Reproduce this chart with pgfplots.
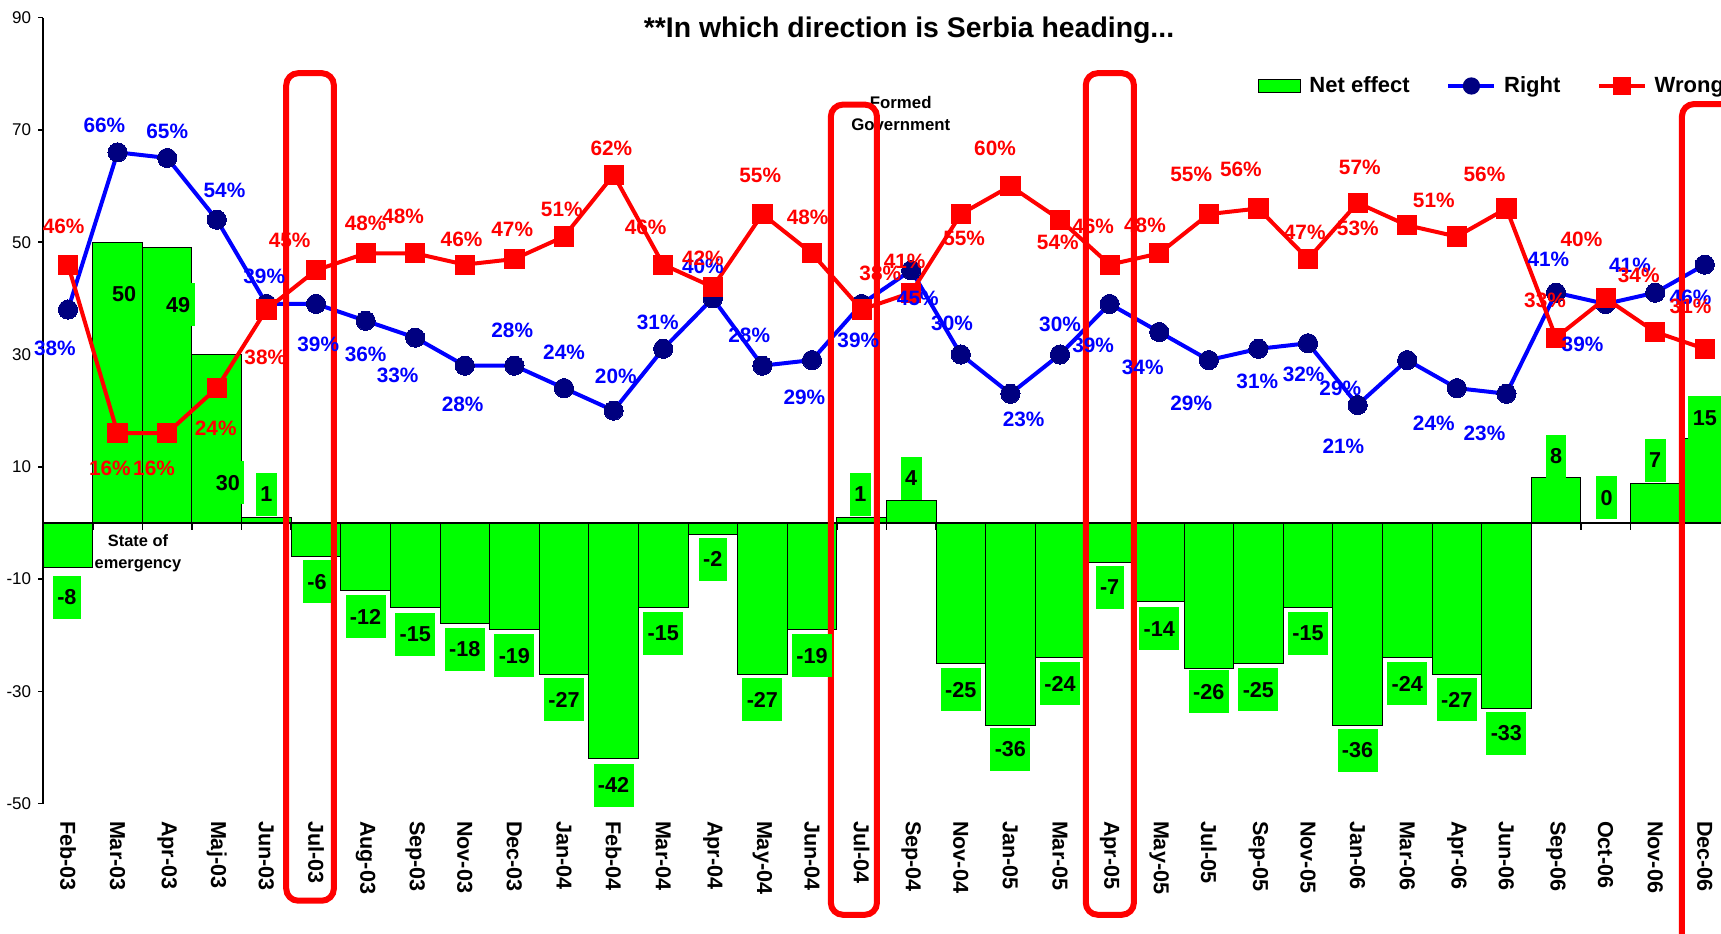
\documentclass[border=0pt]{standalone}
\usepackage{pgfplots}
\pgfplotsset{compat=1.18}
\usepackage{pgfplotstable}
\usepackage{fontspec}
\setmainfont{Liberation Sans}
\definecolor{barGreen}{HTML}{00FF00}
\definecolor{lineBlue}{HTML}{0000FF}
\definecolor{markNavy}{HTML}{000080}
\definecolor{lineRed}{HTML}{FF0000}

\pgfplotstableread{
x net right wrong ndx ndy rdx rdy wdx wdy
0 -8 38 46 -1 -27 -12 -35 -4 35
1 50 66 16 6 -47 -12 25 -7 -32
2 49 65 16 10 -52 0 24 -12 -32
3 30 54 24 10 -117 7 27 -1 -37
4 1 39 38 0 21 -2 25 -1 -44
5 -6 39 45 1 -23 2 -37 -24 27
6 -12 36 48 0 -24 0 -31 0 27
7 -15 33 48 0 -25 -16 -34 -11 34
8 -18 28 46 0 -23 -2 -35 -3 23
9 -19 28 47 0 -24 -2 32 -2 27
10 -27 24 51 0 -23 0 33 -2 25
11 -42 20 62 0 -24 2 31 -2 24
12 -15 31 46 0 -24 -5 24 -16 34
13 -2 40 42 0 -23 -9 29 -9 26
14 -27 28 55 0 -23 -12 28 -2 35
15 -19 29 48 0 -24 -7 -34 -4 33
16 1 39 38 -1 21 -3 -33 17 33
17 4 45 41 0 20 6 -26 -6 29
18 -25 30 55 0 -24 -8 28 3 -22
19 -36 23 60 0 -22 12 -23 -14 34
20 -24 30 54 0 -24 0 27 -2 -21
21 -7 39 46 0 -23 -15 -38 -15 35
22 -14 34 48 0 -25 -15 -32 -13 26
23 -26 29 55 0 -21 -16 -39 -16 36
24 -25 31 56 0 -24 -1 -30 -16 36
25 -15 32 47 0 -24 -4 -28 -3 24
26 -36 21 57 0 -23 -13 -38 2 32
27 -24 29 53 0 -24 -61 -26 -45 -3
28 -27 24 51 0 -23 -21 -32 -21 33
29 -33 23 56 0 -23 -20 -36 -20 31
30 8 41 33 0 20 -7 30 -10 34
31 0 39 40 1 23 -21 -37 -22 54
32 7 41 34 0 21 -23 25 -15 52
33 15 46 31 0 19 -13 -30 -13 39
}\data

\begin{document}
\begin{tikzpicture}
\begin{axis}[
  scale only axis, width=843.2pt, height=393pt,
  xmin=-0.5, xmax=33.5, ymin=-50, ymax=90,
  clip=false,
  axis y line*=left, axis x line*=bottom,
  x axis line style={draw=none},
  y axis line style={line width=1pt},
  ytick={-50,-30,...,90},
  xtick={0,...,33},
  xticklabels={Feb-03,Mar-03,Apr-03,Maj-03,Jun-03,Jul-03,Aug-03,Sep-03,Nov-03,Dec-03,Jan-04,Feb-04,Mar-04,Apr-04,May-04,Jun-04,Jul-04,Sep-04,Nov-04,Jan-05,Mar-05,Apr-05,May-05,Jul-05,Sep-05,Nov-05,Jan-06,Mar-06,Apr-06,Jun-06,Sep-06,Oct-06,Nov-06,Dec-06},
  xtick style={draw=none},
  ytick style={black, line width=0.8pt},
  tick align=outside, major tick length=2.5pt,
  /pgf/number format/assume math mode=true,
  yticklabel style={font=\fontsize{8.5}{10}\selectfont},
  xticklabel style={rotate=-90, anchor=west, inner sep=0pt, font=\bfseries\fontsize{10.8}{12}\selectfont},
  xticklabel shift=6pt,
  legend columns=3,
  legend style={at={(rel axis cs:0.7204,0.9130)}, anchor=west, draw=none, fill=none,
    font=\bfseries\fontsize{11}{13}\selectfont, inner sep=0pt, nodes={inner sep=0pt},
    /tikz/every odd column/.append style={column sep=4pt},
    /tikz/every even column/.append style={column sep=18.5pt}},
]

% small ticks under the zero line
\pgfplotsinvokeforeach{0.5,1.5,...,32.5}{\draw[line width=0.8pt] (axis cs:#1,0) -- ([yshift=-3.5pt]axis cs:#1,0);}

% annotation behind the bars
\node[font=\bfseries\fontsize{8.2}{11}\selectfont, align=center] at (axis cs:1.41,-5.5) {State of\\emergency};

\addplot[ybar, bar width=1, bar shift=0pt, fill=barGreen, draw=black, line width=0.5pt,
  legend image code/.code={\draw[draw=black, fill=barGreen, line width=0.5pt] (0pt,-3.25pt) rectangle (21pt,3.25pt);}]
  table[x=x, y=net]{\data};
\addlegendentry{Net effect}

\draw[line width=1pt] (axis cs:-0.5,0) -- (axis cs:33.5,0);

\addplot[lineBlue, line width=2pt, mark=*, mark size=4.8pt,
  mark options={solid, fill=markNavy, draw=markNavy, line width=0pt},
  legend image code/.code={\draw[lineBlue, line width=1.7pt] (0pt,0pt) -- (23pt,0pt); \fill[markNavy] (11.5pt,0pt) circle (3.3pt);}]
  table[x=x, y=right]{\data};
\addlegendentry{Right}

\addplot[lineRed, line width=2pt, mark=square*, mark size=4.8pt,
  mark options={solid, fill=lineRed, draw=lineRed, line width=0pt},
  legend image code/.code={\draw[lineRed, line width=1.7pt] (0pt,0pt) -- (23pt,0pt); \fill[lineRed] (8.2pt,-3.3pt) rectangle (14.8pt,3.3pt);}]
  table[x=x, y=wrong]{\data};
\addlegendentry{Wrong}

% net effect labels
\addplot[draw=none, mark=none, forget plot, point meta=explicit symbolic,
  nodes near coords={\pgfplotspointmeta},
  visualization depends on={\thisrow{ndx} \as \ndx},
  visualization depends on={\thisrow{ndy} \as \ndy},
  every node near coord/.append style={anchor=center, xshift={\ndx*0.5488pt}, yshift={\ndy*0.5488pt},
    fill=barGreen, text=black, inner xsep=2.2pt, inner ysep=0pt, minimum height=21.5pt,
    font=\bfseries\fontsize{10.8}{12}\selectfont}]
  table[x=x, y=net, meta=net]{\data};

% right labels
\addplot[draw=none, mark=none, forget plot, point meta=explicit symbolic,
  nodes near coords={\pgfplotspointmeta\%},
  visualization depends on={\thisrow{rdx} \as \rdx},
  visualization depends on={\thisrow{rdy} \as \rdy},
  every node near coord/.append style={anchor=center, inner sep=0pt, xshift={\rdx*0.5488pt}, yshift={\rdy*0.5488pt},
    text=lineBlue, font=\bfseries\fontsize{10.4}{12}\selectfont}]
  table[x=x, y=right, meta=right]{\data};

% wrong labels
\addplot[draw=none, mark=none, forget plot, point meta=explicit symbolic,
  nodes near coords={\pgfplotspointmeta\%},
  visualization depends on={\thisrow{wdx} \as \wdx},
  visualization depends on={\thisrow{wdy} \as \wdy},
  every node near coord/.append style={anchor=center, inner sep=0pt, xshift={\wdx*0.5488pt}, yshift={\wdy*0.5488pt},
    text=lineRed, font=\bfseries\fontsize{10.4}{12}\selectfont}]
  table[x=x, y=wrong, meta=wrong]{\data};

\node[font=\bfseries\fontsize{8.4}{11}\selectfont, align=center] at (rel axis cs:0.5085,0.878) {Formed\\Government};

\node[font=\bfseries\fontsize{14.2}{16}\selectfont] at (rel axis cs:0.5134,0.984) {**In which direction is Serbia heading...};

% highlight frames
\draw[lineRed, line width=3pt, rounded corners=6pt] (axis cs:4.40,80.1) rectangle (axis cs:5.36,-67.3);
\draw[lineRed, line width=3pt, rounded corners=6pt] (axis cs:15.38,74.5) rectangle (axis cs:16.31,-69.8);
\draw[lineRed, line width=3pt, rounded corners=6pt] (axis cs:20.52,80.1) rectangle (axis cs:21.49,-69.8);
\draw[lineRed, line width=3pt, rounded corners=6pt] (axis cs:32.54,74.6) rectangle (axis cs:34.6,-80);
\end{axis}
\pgfresetboundingbox
\path ([xshift=-21.6pt,yshift=-65pt]current axis.south west) rectangle ([xshift=838.9pt,yshift=401.8pt]current axis.south west);
\end{tikzpicture}
\end{document}
